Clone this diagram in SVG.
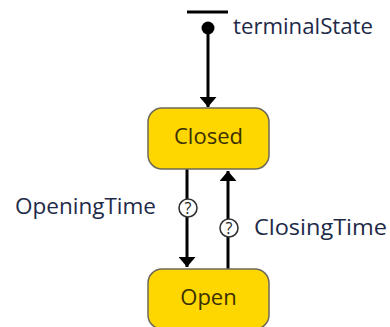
<svg xmlns="http://www.w3.org/2000/svg" width="390" height="327" viewBox="0 0 390 327">
  <defs>
    <marker id="arrow" viewBox="0 0 10 10" refX="10" refY="5" markerWidth="10" markerHeight="17" markerUnits="userSpaceOnUse" orient="auto-start-reverse" preserveAspectRatio="none">
      <path d="M0,0 L10,5 L0,10 Z" fill="#000"/>
    </marker>
    <style>
      .state rect { fill: #FFD700; stroke: #6e6a5a; stroke-width: 1.5; }
      .state text { font-family: "Open Sans", "Noto Sans", sans-serif; font-size: 22px; fill: #3a3000; text-anchor: middle; }
      .label { font-family: "Open Sans", "Noto Sans", sans-serif; font-size: 22px; fill: #1e2a48; }
      .edge { stroke: #000; stroke-width: 3; fill: none; }
      .guard circle { fill: #fff; stroke: #333; stroke-width: 1.6; }
      .guard text { font-family: "Open Sans", "Noto Sans", sans-serif; font-size: 16px; fill: #222; text-anchor: middle; }
    </style>
  </defs>

  <!-- initial pseudo-state -->
  <g id="terminalState">
    <line x1="187" y1="12" x2="228" y2="12" stroke="#000" stroke-width="3"/>
    <circle cx="208" cy="28" r="6.5" fill="#000"/>
    <text class="label" x="233" y="34" textLength="140" lengthAdjust="spacingAndGlyphs">terminalState</text>
  </g>

  <!-- transitions -->
  <g id="connectors">
    <line class="edge" x1="208" y1="30" x2="208" y2="107" marker-end="url(#arrow)"/>
    <line class="edge" x1="187" y1="169" x2="187" y2="267" marker-end="url(#arrow)"/>
    <line class="edge" x1="228" y1="269" x2="228" y2="171" marker-end="url(#arrow)"/>
    <g class="guard">
      <circle cx="188" cy="208" r="9"/>
      <text x="188" y="213.5">?</text>
      <circle cx="229" cy="228" r="9"/>
      <text x="229" y="233.5">?</text>
    </g>
    <text class="label" x="15" y="214" textLength="141" lengthAdjust="spacingAndGlyphs">OpeningTime</text>
    <text class="label" x="254" y="235" textLength="133" lengthAdjust="spacingAndGlyphs">ClosingTime</text>
  </g>

  <!-- states -->
  <g id="Closed" class="state">
    <rect x="148" y="108" width="121" height="61" rx="14"/>
    <text x="208.5" y="144">Closed</text>
  </g>
  <g id="Open" class="state">
    <rect x="148" y="269" width="121" height="60" rx="14"/>
    <text x="208.5" y="305">Open</text>
  </g>
</svg>
